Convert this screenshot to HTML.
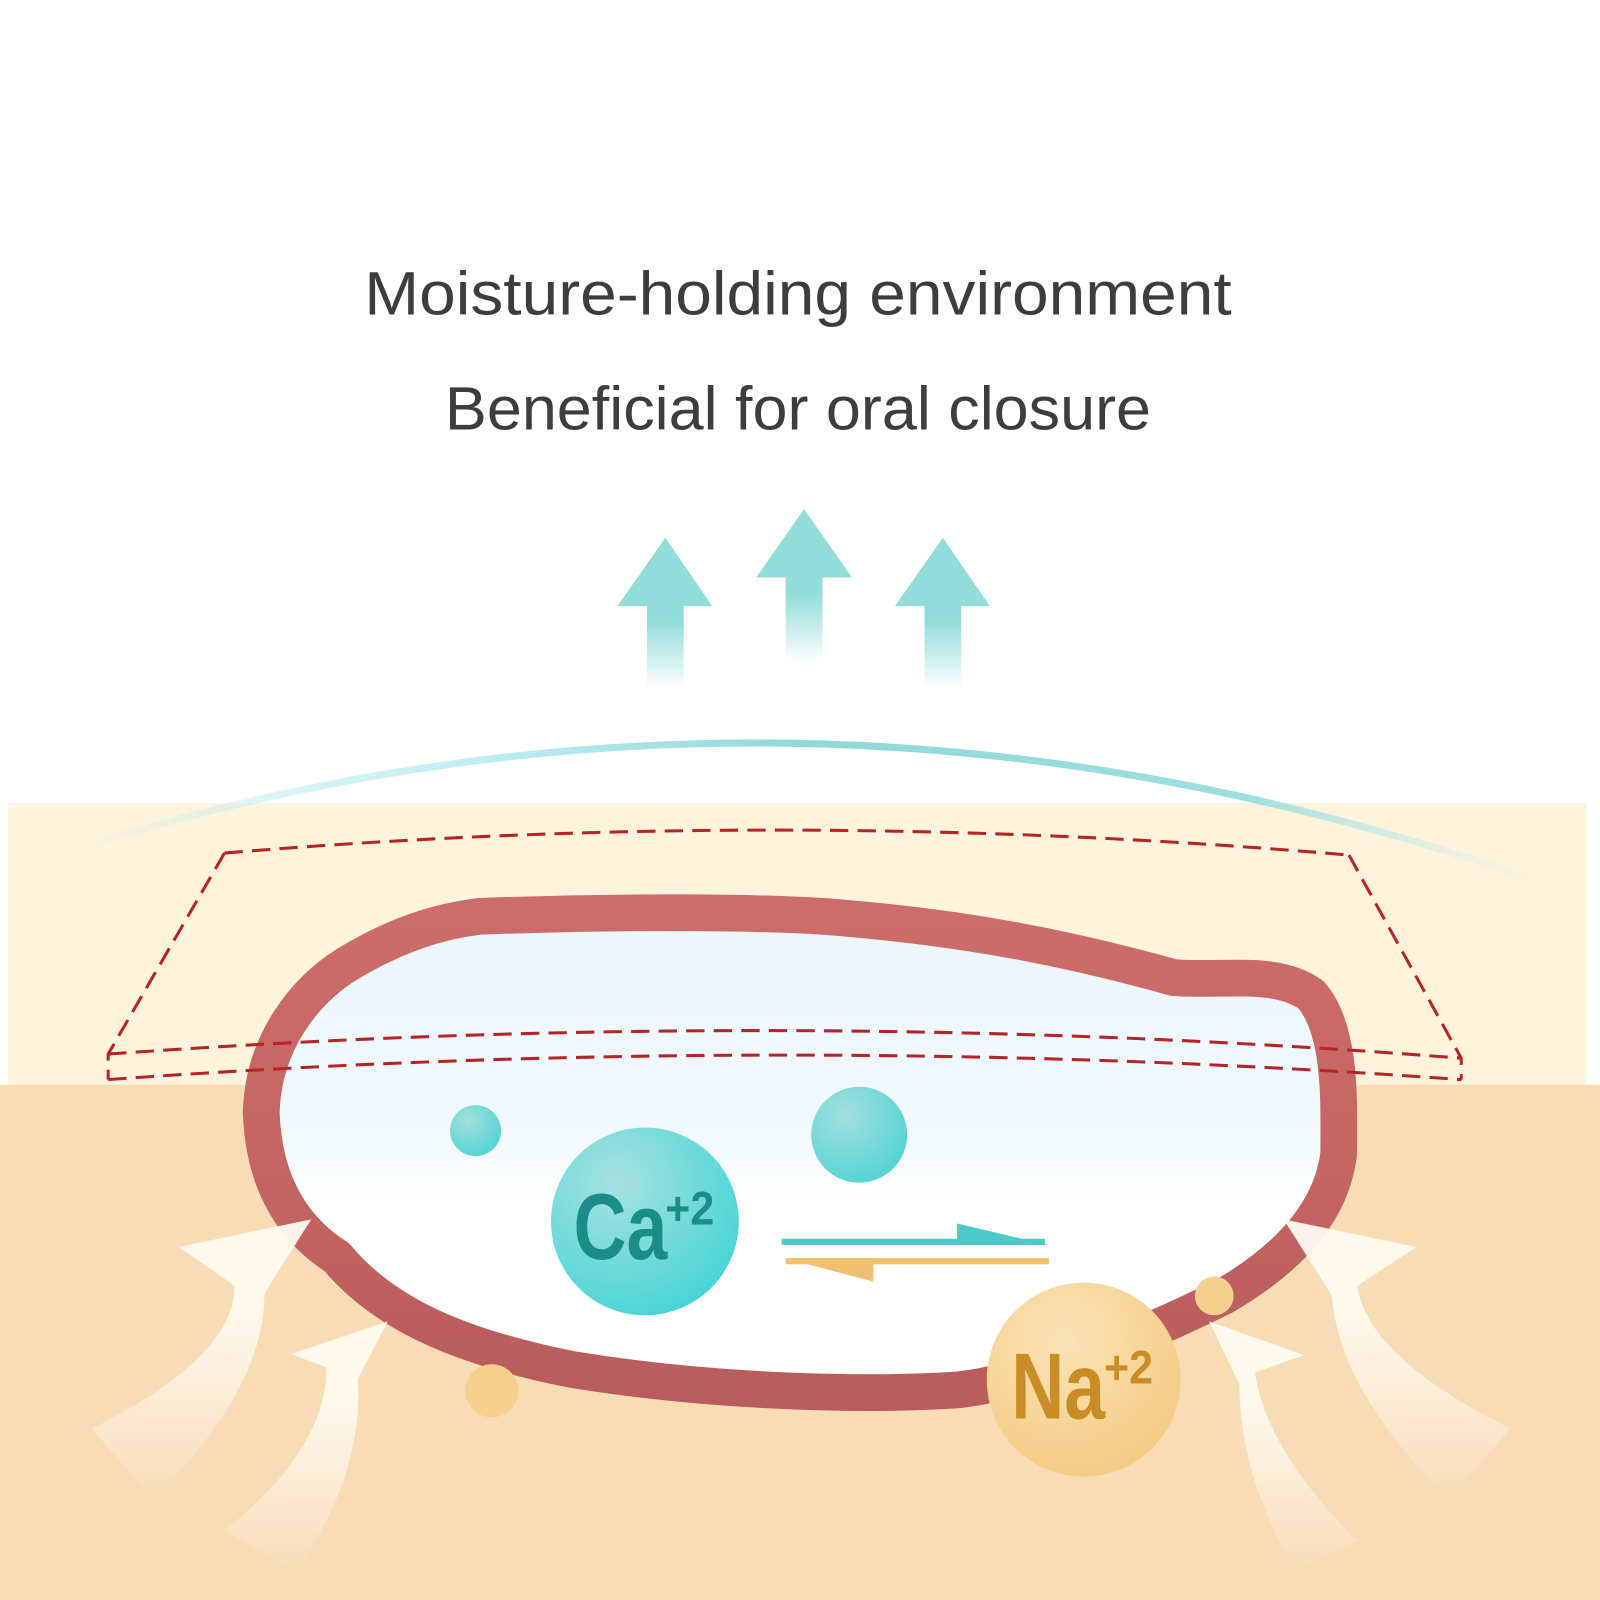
<!DOCTYPE html>
<html><head><meta charset="utf-8"><style>html,body{margin:0;padding:0;background:#fff}svg{display:block}</style></head>
<body>
<svg width="1600" height="1600" viewBox="0 0 1568 1568" xmlns="http://www.w3.org/2000/svg">
<defs>
<linearGradient id="ar" x1="0" y1="0" x2="0" y2="1"><stop offset="0.55" stop-color="#92dcd9"/><stop offset="1" stop-color="#92dcd9" stop-opacity="0"/></linearGradient>
<linearGradient id="arc" x1="0" y1="0" x2="1" y2="0"><stop offset="0" stop-color="#aee6ea" stop-opacity="0"/><stop offset="0.25" stop-color="#c4f0f4"/><stop offset="0.5" stop-color="#8fd8d8"/><stop offset="0.8" stop-color="#9ddfe0"/><stop offset="1" stop-color="#c8eef0" stop-opacity="0"/></linearGradient>
<radialGradient id="ca" cx="0.35" cy="0.3" r="0.8"><stop offset="0" stop-color="#a8e2e0"/><stop offset="1" stop-color="#40d4d4"/></radialGradient>
<radialGradient id="sm" cx="0.35" cy="0.3" r="0.8"><stop offset="0" stop-color="#a2e0de"/><stop offset="1" stop-color="#4fd3d3"/></radialGradient>
<radialGradient id="na" cx="0.4" cy="0.3" r="0.8"><stop offset="0" stop-color="#fbe3b6"/><stop offset="1" stop-color="#f3c97f"/></radialGradient>
<linearGradient id="wa" x1="0" y1="1" x2="0" y2="0"><stop offset="0" stop-color="#fff" stop-opacity="0"/><stop offset="0.7" stop-color="#fffaf0" stop-opacity="0.95"/></linearGradient>
<linearGradient id="rim" x1="0" y1="0" x2="0" y2="1"><stop offset="0" stop-color="#cd6d6a"/><stop offset="0.6" stop-color="#c46462"/><stop offset="1" stop-color="#b85c5c"/></linearGradient>
<linearGradient id="inn" x1="0" y1="0" x2="0" y2="1"><stop offset="0" stop-color="#eaf6fd"/><stop offset="0.45" stop-color="#f1f9fe"/><stop offset="0.6" stop-color="#ffffff"/><stop offset="1" stop-color="#ffffff"/></linearGradient>
</defs>
<rect width="1568" height="1568" fill="#fff"/>
<rect x="8" y="787" width="1547" height="277" fill="#fef4dc"/>
<rect x="0" y="1063" width="1568" height="505" fill="#f8dcb5"/>

<text x="782" y="308" font-family="Liberation Sans, sans-serif" font-size="60" fill="#3d3d3d" text-anchor="middle" textLength="850" lengthAdjust="spacingAndGlyphs">Moisture-holding environment</text>
<text x="782" y="421" font-family="Liberation Sans, sans-serif" font-size="60" fill="#3d3d3d" text-anchor="middle" textLength="692" lengthAdjust="spacingAndGlyphs">Beneficial for oral closure</text>

<path d="M652 527 L698 594 L670 594 L670 675 L634 675 L634 594 L605 594 Z" fill="url(#ar)"/>
<path d="M788 499 L835 566 L806 566 L806 650 L770 650 L770 566 L741 566 Z" fill="url(#ar)"/>
<path d="M924 527 L970 594 L942 594 L942 675 L906 675 L906 594 L877 594 Z" fill="url(#ar)"/>

<path d="M80 830 Q790 610 1510 865" fill="none" stroke="url(#arc)" stroke-width="7" stroke-linecap="round"/>

<path d="M470 898 C600 893 760 893 830 900 C950 910 1050 930 1150 958 C1200 962 1250 950 1285 975 C1315 1010 1312 1080 1312 1130 C1305 1190 1260 1235 1200 1270 C1100 1320 1000 1355 940 1362 C850 1368 700 1365 560 1342 C460 1322 380 1292 330 1232 C280 1200 258 1150 256 1090 C258 1020 300 970 340 945 C390 915 430 903 470 898 Z" fill="url(#inn)" stroke="url(#rim)" stroke-width="36" stroke-linejoin="round"/>

<g fill="none" stroke="#b62525" stroke-width="3" stroke-dasharray="18 9">
<path d="M220 836 Q770 790 1322 838"/>
<path d="M220 836 L106 1033 L106 1058"/>
<path d="M1322 838 L1432 1037 L1432 1058"/>
<path d="M106 1033 Q770 985 1432 1037"/>
<path d="M106 1058 Q770 1010 1432 1058"/>
</g>

<circle cx="466" cy="1108" r="25" fill="url(#sm)"/>
<circle cx="842" cy="1112" r="47" fill="url(#sm)"/>
<circle cx="632" cy="1197" r="92" fill="url(#ca)"/>
<text x="562" y="1234" font-family="Liberation Sans, sans-serif" font-weight="bold" font-size="92" fill="#1c8c88" textLength="92" lengthAdjust="spacingAndGlyphs">Ca</text>
<text x="652" y="1200" font-family="Liberation Sans, sans-serif" font-weight="bold" font-size="46" fill="#1c8c88" textLength="48" lengthAdjust="spacingAndGlyphs">+2</text>

<rect x="766" y="1214" width="258" height="6" fill="#4dc9c6"/>
<path d="M938 1199 L1027 1220 L938 1220 Z" fill="#4dc9c6"/>
<rect x="770" y="1233" width="258" height="6" fill="#f0c071"/>
<path d="M769 1233 L856 1233 L856 1256 Z" fill="#f0c071"/>

<circle cx="1062" cy="1352" r="95" fill="url(#na)"/>
<text x="991" y="1390" font-family="Liberation Sans, sans-serif" font-weight="bold" font-size="92" fill="#c98c26" textLength="92" lengthAdjust="spacingAndGlyphs">Na</text>
<text x="1082" y="1356" font-family="Liberation Sans, sans-serif" font-weight="bold" font-size="46" fill="#c98c26" textLength="48" lengthAdjust="spacingAndGlyphs">+2</text>
<circle cx="482" cy="1363" r="26" fill="#f6d08f"/>
<circle cx="1190" cy="1270" r="19" fill="#f6d08f"/>

<g fill="url(#wa)">
<path d="M90 1400 Q230 1330 230 1260 L175 1222 L305 1195 L245 1290 L258 1250 Q270 1350 150 1470 Z"/>
<path d="M220 1500 Q320 1420 320 1340 L285 1327 L380 1295 L340 1372 L350 1340 Q360 1440 290 1540 Z"/>
<path d="M1480 1400 Q1340 1330 1330 1260 L1388 1222 L1258 1195 L1318 1290 L1305 1250 Q1300 1350 1420 1470 Z"/>
<path d="M1330 1510 Q1240 1420 1230 1345 L1278 1328 L1185 1295 L1222 1372 L1215 1340 Q1210 1440 1270 1540 Z"/>
</g>
</svg>
</body></html>
